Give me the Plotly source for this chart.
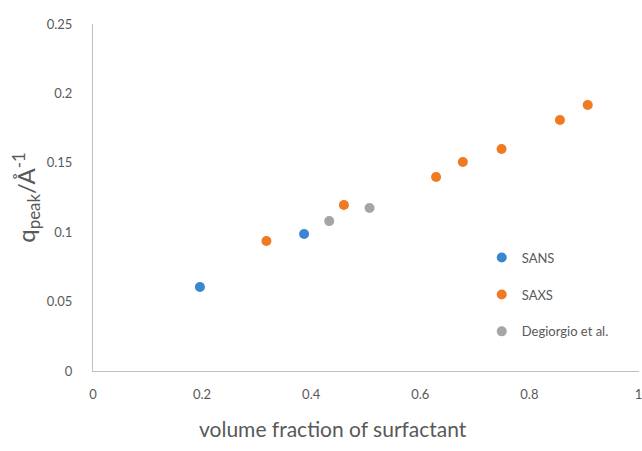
import plotly.graph_objects as go

sans_x = [0.196, 0.387]
sans_y = [0.0605, 0.0987]
saxs_x = [0.318, 0.460, 0.629, 0.678, 0.749, 0.856, 0.907]
saxs_y = [0.0937, 0.1196, 0.1398, 0.1506, 0.160, 0.1808, 0.1916]
deg_x = [0.433, 0.507]
deg_y = [0.108, 0.1174]

x_ticks = [0, 0.2, 0.4, 0.6, 0.8, 1]
x_tick_labels = ["0", "0.2", "0.4", "0.6", "0.8", "1"]
y_ticks = [0, 0.05, 0.1, 0.15, 0.2, 0.25]
y_tick_labels = ["0", "0.05", "0.1", "0.15", "0.2", "0.25"]

FONT = "Lato"
GREY = "#595959"

fig = go.Figure()
series = [
    ("SANS", sans_x, sans_y, "#3A87D0"),
    ("SAXS", saxs_x, saxs_y, "#F07A22"),
    ("Degiorgio et al.", deg_x, deg_y, "#A5A5A5"),
]
for i, (name, xs, ys, col) in enumerate(series):
    fig.add_trace(go.Scatter(
        x=xs, y=ys, mode="markers", name=name, legendgroup=f"g{i}",
        marker=dict(color=col, size=10, line=dict(width=0)),
    ))

fig.update_layout(
    width=642, height=451,
    margin=dict(l=93, r=0, t=24, b=80),
    paper_bgcolor="white", plot_bgcolor="white",
    font=dict(family=FONT, color=GREY),
    showlegend=True,
    legend=dict(
        x=0.712, y=0.37, xanchor="left", yanchor="top",
        font=dict(family=FONT, size=13, color=GREY),
        tracegroupgap=17, traceorder="grouped",
        itemwidth=30, bgcolor="rgba(0,0,0,0)",
    ),
    xaxis=dict(
        range=[0, 1.001], tickmode="array", tickvals=x_ticks, ticktext=x_tick_labels,
        showgrid=False, zeroline=False, showline=True, linecolor="#BFBFBF",
        linewidth=1, ticks="", tickfont=dict(family=FONT, size=13, color=GREY),
        ticklabelstandoff=11, ticklabeloverflow="allow",
    ),
    yaxis=dict(
        range=[0, 0.25], tickmode="array", tickvals=y_ticks, ticktext=y_tick_labels,
        showgrid=False, zeroline=False, showline=True, linecolor="#BFBFBF",
        linewidth=1, ticks="", tickfont=dict(family=FONT, size=13, color=GREY),
        ticklabelstandoff=17,
        title=dict(text="q<sub>peak</sub>/Å<sup>-1</sup>",
                   font=dict(family=FONT, size=24, color=GREY), standoff=4),
    ),
    annotations=[dict(
        text="volume fraction of surfactant", xref="paper", yref="paper",
        x=0.439, y=0, yshift=-57, xanchor="center", yanchor="middle",
        showarrow=False, font=dict(family=FONT, size=21, color=GREY),
    )],
)

fig.write_html("out.html")
